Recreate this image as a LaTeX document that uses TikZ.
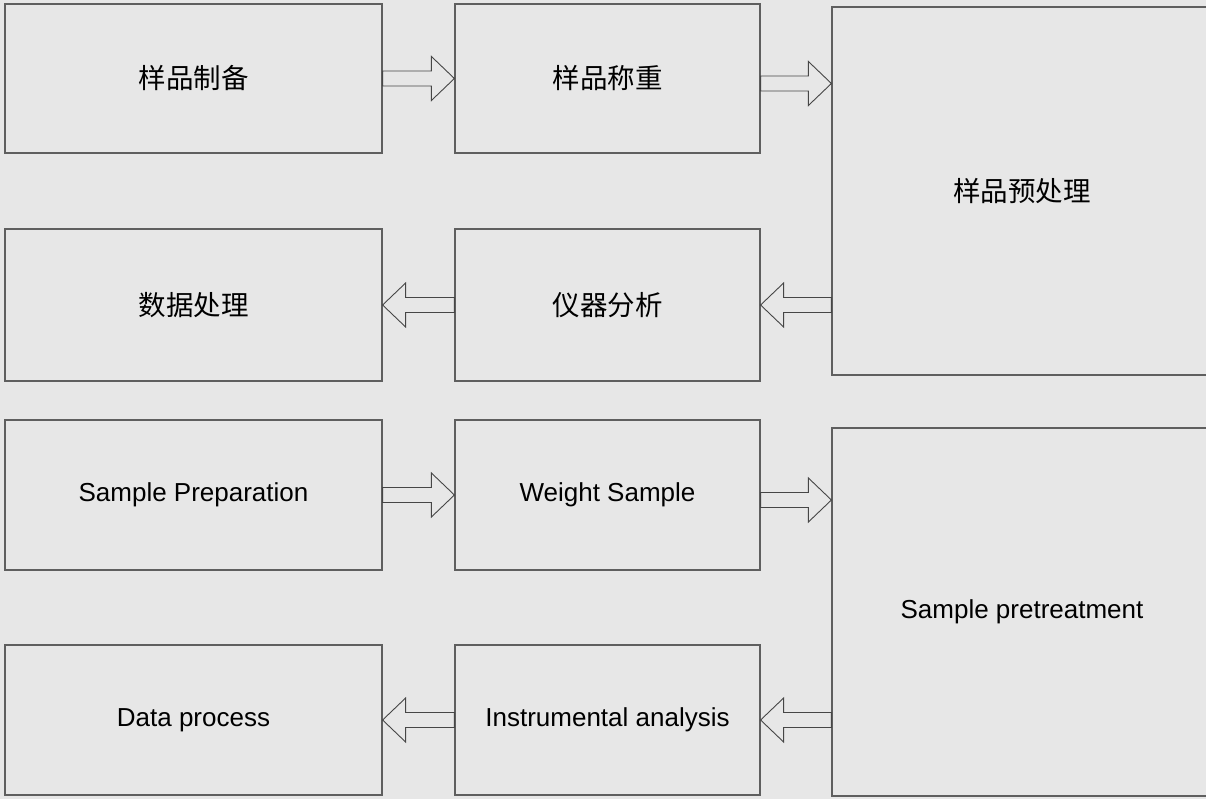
\documentclass[tikz,border=0pt]{standalone}
\usepackage{fontspec}
\setmainfont{Liberation Sans}
\newfontfamily\cjk{Noto Sans CJK SC}
\usepackage{xcolor}
\usetikzlibrary{calc}
\definecolor{bgcolor}{RGB}{231,231,231}
\definecolor{linecolor}{RGB}{95,95,95}
\definecolor{arrowcolor}{RGB}{70,70,70}

% hollow block arrow from #1 to #2
\newcommand{\hollowarrow}[2]{%
  \path (#1) coordinate (ha-s) (#2) coordinate (ha-t);
  \path ($(ha-t)!23pt!(ha-s)$) coordinate (ha-h);
  \draw[hollow] ($(ha-s)!7.5pt!90:(ha-t)$) -- ($(ha-h)!7.5pt!90:(ha-t)$)
    -- ($(ha-h)!22pt!90:(ha-t)$) -- (ha-t) -- ($(ha-h)!22pt!-90:(ha-t)$)
    -- ($(ha-h)!7.5pt!-90:(ha-t)$) -- ($(ha-s)!7.5pt!-90:(ha-t)$) -- cycle;
}

\begin{document}
\begin{tikzpicture}[
    x=1pt, y=-1pt,
    box/.style={draw=linecolor, line width=1.2pt, inner sep=0pt, minimum height=150pt,
      font=\fontsize{26}{30}\selectfont, align=center},
    cnbox/.style={font=\fontsize{27.5}{32}\selectfont\cjk},
    widebox/.style={box, minimum width=377pt},
    midbox/.style={box, minimum width=305pt},
    tallbox/.style={box, minimum width=380pt, minimum height=368pt},
    hollow/.style={draw=arrowcolor, line width=0.9pt, line join=miter}
]
    \useasboundingbox (0,0) rectangle (1206,799);
    \clip (0,0) rectangle (1206,799);
    \fill[bgcolor] (0,0) rectangle (1206,799);

    % Chinese flow
    \node[widebox, cnbox, minimum height=149pt] (cnprep) at (193.5,78.5) {样品制备};
    \node[midbox, cnbox, minimum height=149pt] (cnweigh) at (607.5,78.5) {样品称重};
    \node[tallbox, cnbox] (cnpre) at (1022,191) {样品预处理};
    \node[widebox, cnbox, minimum height=152pt] (cndata) at (193.5,305) {数据处理};
    \node[midbox, cnbox, minimum height=152pt] (cninst) at (607.5,305) {仪器分析};

    % English flow
    \node[widebox] (enprep) at (193.5,495) {Sample Preparation};
    \node[midbox] (enweigh) at (607.5,495) {Weight Sample};
    \node[tallbox] (enpre) at (1022,612) {Sample pretreatment};
    \node[widebox] (endata) at (193.5,720) {Data process};
    \node[midbox] (eninst) at (607.5,720) {Instrumental analysis};

    % Arrows
    \hollowarrow{cnprep.east}{cnweigh.west}
    \hollowarrow{$(cnweigh.east)+(0,5)$}{$(cnpre.west |- cnweigh.east)+(0,5)$}
    \hollowarrow{cnpre.west |- cninst.east}{cninst.east}
    \hollowarrow{cninst.west}{cndata.east}

    \hollowarrow{enprep.east}{enweigh.west}
    \hollowarrow{$(enweigh.east)+(0,5)$}{$(enpre.west |- enweigh.east)+(0,5)$}
    \hollowarrow{enpre.west |- eninst.east}{eninst.east}
    \hollowarrow{eninst.west}{endata.east}
\end{tikzpicture}
\end{document}
